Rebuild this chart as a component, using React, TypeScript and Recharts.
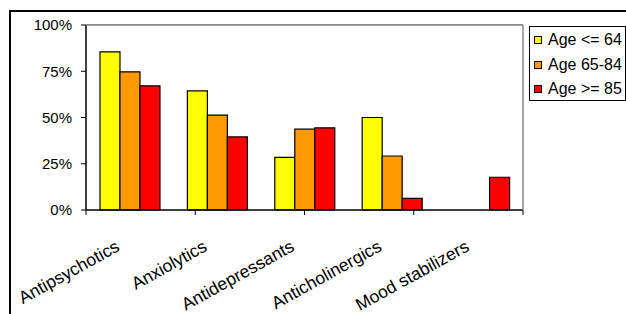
import React from 'react';
import { BarChart, Bar, XAxis, YAxis } from 'recharts';

const categories = ['Antipsychotics', 'Anxiolytics', 'Antidepressants', 'Anticholinergics', 'Mood stabilizers'];
const ageLe64 = [85.5, 64.4, 28.5, 50.0, 0];
const age65to84 = [74.7, 51.3, 43.7, 29.2, 0];
const ageGe85 = [67.1, 39.5, 44.4, 6.3, 17.7];
const yTicks = [0, 25, 50, 75, 100];
const edgeTicks = [0, 1, 2, 3, 4, 5];

const seriesNames = ['Age <= 64', 'Age 65-84', 'Age >= 85'];
const seriesColors = ['#FFFF00', '#FF9900', '#FF0000'];
const seriesKeys = ['s0', 's1', 's2'];

const data = categories.map((c, i) => ({
  name: c,
  s0: ageLe64[i],
  s1: age65to84[i],
  s2: ageGe85[i],
}));

const FONT = 'Arial, "Liberation Sans", sans-serif';
const CHART_W = 626;
const CHART_H = 314;
const MARGIN = { top: 25, right: 102, bottom: 0, left: 0 };
const Y_AXIS_W = 86;
const RIGHT_AXIS_W = 1;
const TICK_SIZE = 5;
const TICK_MARGIN = 9;
const PLOT_W = CHART_W - MARGIN.left - MARGIN.right - Y_AXIS_W - RIGHT_AXIS_W;

const XTick = (props: any) => {
  const { x, y, payload } = props;
  const ax = x - 9;
  const ay = y + 39;
  return (
    <text
      x={ax}
      y={ay}
      transform={`rotate(-29, ${ax}, ${ay})`}
      textAnchor="end"
      fontSize={17.5}
      fontFamily={FONT}
      fill="#000"
    >
      {payload.value}
    </text>
  );
};

const YTick = (props: any) => {
  const { x, y, payload } = props;
  const axisX = Number(x) + TICK_SIZE + TICK_MARGIN;
  const isTop = Number(payload.value) === 100;
  return (
    <g>
      {isTop ? (
        <path d={`M${axisX},${y}H${axisX + PLOT_W}`} stroke="#888888" strokeWidth={1.5} fill="none" />
      ) : null}
      <text x={x} y={y} dy="0.355em" textAnchor="end" fontSize={15} fontFamily={FONT} fill="#000">
        {`${payload.value}%`}
      </text>
    </g>
  );
};

const LegendBox = () => (
  <div
    style={{
      position: 'absolute',
      left: 529,
      top: 26,
      boxSizing: 'border-box',
      width: 97,
      height: 75,
      border: '1px solid #000',
      background: '#fff',
      fontFamily: FONT,
      fontSize: 16,
      color: '#000',
    }}
  >
    {seriesNames.map((n, i) => (
      <React.Fragment key={n}>
        <span
          style={{
            position: 'absolute',
            left: 4,
            top: 9 + i * 24.5,
            boxSizing: 'border-box',
            width: 8,
            height: 8,
            background: seriesColors[i],
            border: '1px solid #000',
          }}
        />
        <span
          style={{
            position: 'absolute',
            left: 18,
            top: 3 + i * 24.5,
            lineHeight: '20px',
            whiteSpace: 'nowrap',
          }}
        >
          {n}
        </span>
      </React.Fragment>
    ))}
  </div>
);

export default function App() {
  return (
    <div style={{ position: 'fixed', left: 0, top: 0, width: CHART_W, height: CHART_H, overflow: 'hidden', background: '#fff' }}>
      <div
        style={{
          position: 'absolute',
          left: 9,
          top: 10,
          right: 0,
          bottom: 0,
          borderLeft: '2px solid #000',
          borderTop: '2px solid #000',
        }}
      />
      <div
        style={{
          position: 'absolute',
          left: MARGIN.left + Y_AXIS_W,
          top: MARGIN.top - 1,
          width: PLOT_W,
          height: 0,
          borderTop: '1.5px solid #888888',
        }}
      />
      <div style={{ position: 'absolute', left: 0, top: 0 }}>
        <BarChart
          width={CHART_W}
          height={CHART_H}
          data={data}
          margin={MARGIN}
          barCategoryGap="16%"
          barGap={0}
        >
          <XAxis
            xAxisId="axisA"
            type="number"
            domain={[0, 5]}
            ticks={edgeTicks}
            height={1}
            axisLine={{ stroke: '#000', strokeWidth: 1.5 }}
            tickLine={{ stroke: '#000', strokeWidth: 1 }}
            tickSize={5}
            tickFormatter={() => ''}
          />
          <XAxis
            xAxisId="axisB"
            dataKey="name"
            height={103}
            axisLine={false}
            tickLine={false}
            tickSize={0}
            tickMargin={0}
            interval={0}
            tick={<XTick />}
          />
          <YAxis
            yAxisId="left"
            domain={[0, 100]}
            ticks={yTicks}
            width={Y_AXIS_W}
            axisLine={{ stroke: '#000', strokeWidth: 1.5 }}
            tickLine={{ stroke: '#000', strokeWidth: 1 }}
            tickSize={TICK_SIZE}
            tickMargin={TICK_MARGIN}
            tick={<YTick />}
          />
          <YAxis
            yAxisId="right"
            orientation="right"
            domain={[0, 100]}
            width={RIGHT_AXIS_W}
            axisLine={{ stroke: '#888', strokeWidth: 1.5 }}
            tick={false}
            tickLine={false}
          />
          {seriesKeys.map((k, i) => (
            <Bar
              key={k}
              dataKey={k}
              name={seriesNames[i]}
              fill={seriesColors[i]}
              stroke="#000"
              strokeWidth={1.2}
              xAxisId="axisB"
              yAxisId="left"
              isAnimationActive={false}
            />
          ))}
        </BarChart>
      </div>
      <LegendBox />
    </div>
  );
}
